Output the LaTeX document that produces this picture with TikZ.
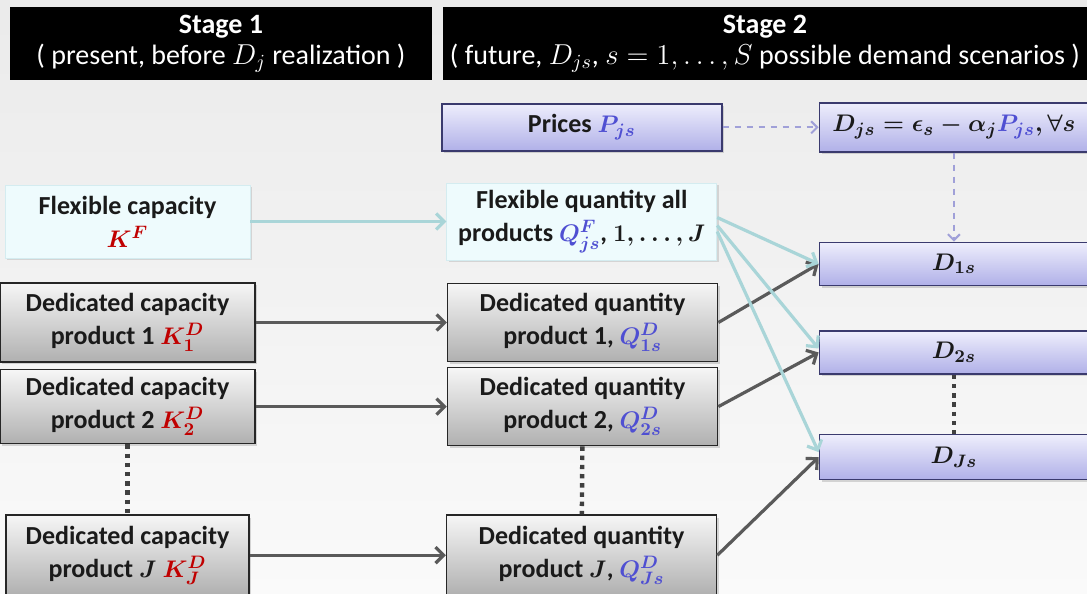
\documentclass[tikz,border=0pt]{standalone}
\usepackage{amsmath}
\usepackage{xcolor}
\usepackage{fontspec}
\setmainfont{Carlito}
\definecolor{ink}{HTML}{1A1A1A}
\definecolor{kred}{HTML}{C00000}
\definecolor{qblue}{HTML}{4F4FD2}
\definecolor{lavtop}{HTML}{EEEEFC}
\definecolor{lavbot}{HTML}{B0B0E8}
\definecolor{lavline}{HTML}{3A3A6E}
\definecolor{flexfill}{HTML}{EEFBFD}
\definecolor{flexline}{HTML}{D4ECF0}
\definecolor{greytop}{HTML}{F6F6F6}
\definecolor{greybot}{HTML}{B0B0B0}
\definecolor{tealarrow}{HTML}{A9D5D8}
\definecolor{darkarrow}{HTML}{5A5A5A}
\definecolor{dasharrow}{HTML}{A0A0D8}
\usepackage{tikz}
\usetikzlibrary{positioning,shadows,arrows.meta}

\begin{document}
\begin{tikzpicture}[x=0.5pt, y=-0.5pt,
		txt/.style={font=\fontsize{13}{16.5}\selectfont\bfseries\boldmath, text=ink, align=center, inner xsep=2pt, inner ysep=2pt},
		header/.style={rectangle, fill=black, text=white, align=center, minimum height=36.5pt,
					font=\fontsize{14}{15.5}\selectfont},
		flexbox/.style={txt, rectangle, draw=flexline, fill=flexfill,
					drop shadow={opacity=0.25, shadow xshift=1.2pt, shadow yshift=-1.2pt}},
		dedbox/.style={txt, rectangle, draw=black!85, thick, top color=greytop, bottom color=greybot,
					drop shadow={opacity=0.3, shadow xshift=1.2pt, shadow yshift=-1.2pt}},
		demand/.style={txt, rectangle, draw=lavline, thick, top color=lavtop, bottom color=lavbot,
					minimum width=134.5pt, minimum height=21.5pt,
					drop shadow={opacity=0.3, shadow xshift=1.2pt, shadow yshift=-1.2pt}},
		flexarrow/.style={draw=tealarrow, line width=1.6pt, -{Straight Barb[length=4pt,width=8pt]}},
		dedarrow/.style={draw=darkarrow, line width=1.6pt, -{Straight Barb[length=4pt,width=8pt]}},
		pricearrow/.style={draw=dasharrow, line width=1pt, dashed, -{Straight Barb[length=3pt,width=6pt]}},
		gap/.style={draw=black!75, line width=2.2pt, dash pattern=on 2.2pt off 2.4pt}]
	\useasboundingbox (0,0) rectangle (1087,594);
	\shade[top color=black!8, bottom color=black!2] (0,0) rectangle (1087,594);

	% headers
	\node (hdr1) [header, minimum width=211pt] at (221,43.5)
		{\textbf{Stage 1}\\( present, before $D_j$ realization )};
	\node (hdr2) [header, minimum width=322pt] at (765,43.5)
		{\textbf{Stage 2}\\( future, $D_{js}$, $s=1,\ldots,S$ possible demand scenarios )};

	% stage 1
	\node (flexcap) [flexbox, minimum width=122.5pt, minimum height=36.5pt] at (127.5,221.5) {Flexible capacity\\{\color{kred}$K^F$}};
	\node (dcap1) [dedbox, minimum width=127.5pt, minimum height=39.5pt] at (127.5,322.5) {Dedicated capacity\\product 1 {\color{kred}$K^D_1$}};
	\node (dcap2) [dedbox, minimum width=127.5pt, minimum height=37pt, below=3pt of dcap1] {Dedicated capacity\\product 2 {\color{kred}$K^D_2$}};
	\node (dcapJ) [dedbox, minimum width=121.5pt, minimum height=40pt, below=35pt of dcap2] {Dedicated capacity\\product $J$ {\color{kred}$K^D_J$}};

	% stage 2
	\node (flexqty) [flexbox, minimum width=135pt, minimum height=38.5pt, right=98pt of flexcap.east, anchor=west]
		{Flexible quantity all\\products {\color{qblue}$Q^F_{js}$}, $1,\ldots,J$};
	\node (prices) [demand, minimum width=140pt, minimum height=23.5pt, above=15.5pt of flexqty] {Prices {\color{qblue}$P_{js}$}};
	\node (eq) [demand, minimum height=24.5pt, right=48pt of prices, font=\fontsize{12.5}{15}\selectfont\bfseries\boldmath]
		{$D_{js}=\epsilon_s-\alpha_j{\color{qblue}P_{js}}, \forall s$};
	\node (dqty1) [dedbox, minimum width=135pt, minimum height=39pt, right=95.5pt of dcap1.east, anchor=west] {Dedicated quantity\\product 1, {\color{qblue}$Q^D_{1s}$}};
	\node (dqty2) [dedbox, minimum width=135pt, minimum height=39pt, right=95.5pt of dcap2.east, anchor=west] {Dedicated quantity\\product 2, {\color{qblue}$Q^D_{2s}$}};
	\node (dqtyJ) [dedbox, minimum width=135pt, minimum height=40pt, right=98pt of dcapJ.east, anchor=west] {Dedicated quantity\\product $J$, {\color{qblue}$Q^D_{Js}$}};

	% demands
	\node (d1) [demand, below=44.5pt of eq] {$D_{1s}$};
	\node (d2) [demand, below=22pt of d1] {$D_{2s}$};
	\node (dJ) [demand, minimum height=22.5pt, below=29.5pt of d2] {$D_{Js}$};

	% connectors
	\draw[pricearrow] (prices) -- (eq);
	\draw[pricearrow] (eq) -- (d1);
	\draw[flexarrow] (flexcap) -- (flexqty);
	\draw[dedarrow] (dcap1) -- (dqty1);
	\draw[dedarrow] (dcap2) -- (dqty2);
	\draw[dedarrow] (dcapJ) -- (dqtyJ);
	\draw[dedarrow] (dqty1.east) -- (d1.west);
	\draw[dedarrow] (dqty2.east) -- (d2.west);
	\draw[dedarrow] (dqtyJ.east) -- (dJ.west);
	\draw[flexarrow] ([yshift=2pt]flexqty.east) -- (d1.west);
	\draw[flexarrow] ([yshift=-2pt]flexqty.east) -- ([yshift=2pt]d2.west);
	\draw[flexarrow] ([yshift=-5pt]flexqty.east) -- ([yshift=2.5pt]dJ.west);
	\draw[gap] (dcap2) -- (dcapJ);
	\draw[gap] (dqty2) -- (dqtyJ);
	\draw[gap] (d2) -- (dJ);
\end{tikzpicture}
\end{document}
